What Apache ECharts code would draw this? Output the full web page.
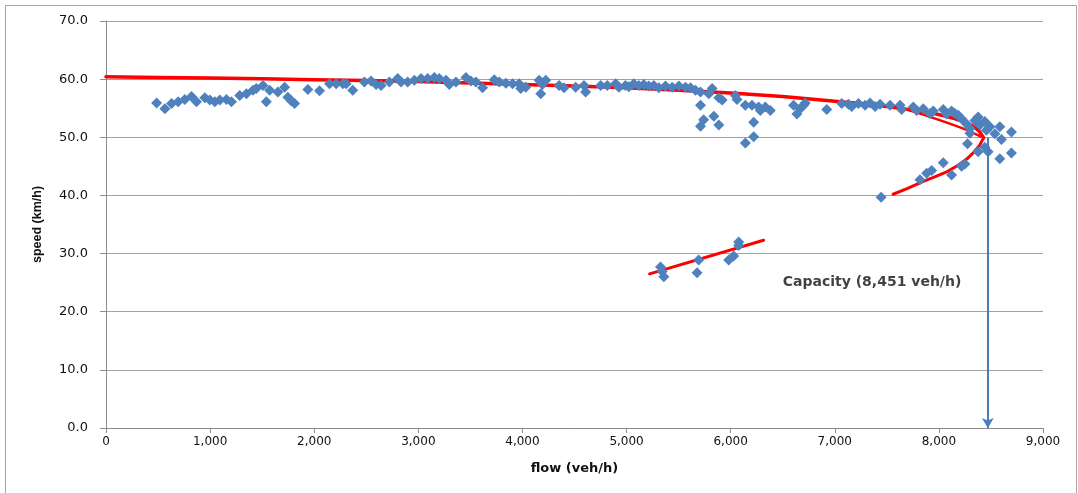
<!DOCTYPE html>
<html>
<head>
<meta charset="utf-8">
<script src="https://cdn.jsdelivr.net/npm/echarts@6/dist/echarts.min.js"></script>
<style>
html,body{margin:0;padding:0;background:#fff;}
#chart{width:1078px;height:493px;}
</style>
</head>
<body>
<div id="chart"></div>
<script>
// Observed flow (veh/h) vs speed (km/h)
const observations = [
[486,55.9],[566,54.9],[630,55.8],[693,56.1],[757,56.5],[821,57.0],[869,56.1],[949,56.8],[997,56.4],[1045,56.1],
[1093,56.4],[1157,56.5],[1205,56.1],[1284,57.2],[1349,57.5],[1412,58.1],[1444,58.4],[1508,58.9],[1540,56.1],[1572,58.1],
[1651,57.8],[1716,58.6],[1747,56.9],[1779,56.3],[1811,55.8],[1939,58.2],[2051,58.0],[2147,59.2],[2211,59.2],[2275,59.2],
[2307,59.2],[2370,58.1],[2482,59.5],[2546,59.7],[2594,59.1],[2642,58.9],[2722,59.5],[2802,60.1],[2834,59.5],[2898,59.5],
[2962,59.8],[3026,60.1],[3090,60.1],[3154,60.3],[3201,60.1],[3266,59.8],[3297,59.1],[3361,59.5],[3457,60.3],[3505,59.7],
[3553,59.5],[3617,58.5],[3729,59.9],[3777,59.5],[3841,59.3],[3905,59.2],[3968,59.2],[3984,58.4],[4032,58.6],[4160,59.8],
[4192,59.1],[4176,57.5],[4224,59.8],[4352,58.9],[4400,58.5],[4511,58.6],[4591,58.9],[4607,57.8],[4751,58.9],[4815,58.9],
[4895,59.2],[4927,58.6],[4990,58.9],[5022,58.7],[5070,59.2],[5118,58.9],[5166,59.1],[5214,58.8],[5262,58.9],[5310,58.5],
[5374,58.8],[5438,58.6],[5502,58.8],[5566,58.6],[5614,58.5],[5662,58.1],[5710,57.8],[5710,55.5],[5741,53.0],[5710,51.9],
[5790,57.5],[5822,58.4],[5838,53.6],[5886,52.1],[5886,56.8],[5918,56.4],[6045,57.2],[6061,56.5],[6141,55.5],[6141,49.0],
[6205,55.5],[6221,52.6],[6221,50.1],[6269,55.2],[6285,54.6],[6333,55.2],[6381,54.6],[6604,55.5],[6636,54.0],[6668,54.9],
[6700,55.5],[6716,55.9],[6923,54.8],[7067,55.8],[7131,55.7],[7163,55.3],[7227,55.8],[7291,55.5],[7339,55.9],[7387,55.3],
[7435,55.7],[7531,55.5],[7627,55.5],[7642,54.8],[7754,55.2],[7786,54.6],[7850,54.9],[7914,54.1],[7946,54.5],[8042,54.8],
[8074,54.0],[8122,54.5],[8154,54.1],[8186,53.8],[8218,53.2],[8266,52.3],[8298,51.5],[8298,50.7],[8346,52.9],[8377,53.5],
[8393,52.1],[8441,52.7],[8457,51.2],[8489,51.8],[8537,50.6],[8585,51.8],[8601,49.6],[8697,50.9],[8275,48.9],[8377,47.5],
[8441,48.3],[8473,47.5],[8585,46.3],[8697,47.3],[8042,45.6],[8122,43.5],[8218,45.0],[8250,45.4],[7930,44.3],[7882,43.8],
[7818,42.7],[7445,39.7],
[5326,27.7],[5358,26.0],[5342,26.9],[5693,28.9],[5677,26.7],[5981,28.9],[6029,29.6],[6077,31.4],[6077,32.0]
];

// Fitted uncongested speed-flow curve
const fitCurve = [
[0,60.4],[500,60.3],[1000,60.2],[1500,60.05],[2000,59.9],[2500,59.75],[3000,59.6],[3500,59.35],[4000,59.1],
[4500,58.8],[5000,58.5],[5500,58.1],[6000,57.6],[6500,57.0],[7000,56.2],[7250,55.8],[7500,55.3],[7700,54.8],
[7900,54.3],[8050,53.7],[8150,53.2],[8250,52.6],[8330,51.9],[8390,51.0],[8430,49.9]
];
// Secondary fitted branch near capacity
const nearCapacityFit = [[7650,55.0],[7850,53.9],[8050,52.7],[8250,51.4],[8420,50.0]];
// Congested branch fit
const congestedFit = [
[7560,40.2],[7700,41.2],[7850,42.4],[7960,43.2],[8080,44.1],[8185,45.2],[8270,46.3],[8340,47.5],[8390,48.6],[8420,49.6]
];
// Low-speed cluster fit
const lowSpeedFit = [[5221,26.5],[6316,32.3]];

// Capacity marker
const capacityFlow = 8470;
const capacityArrowTop = 50.0;
const capacityLabel = 'Capacity (8,451 veh/h)';
const capacityLabelPos = [6500, 25.1];

const xTicks = {min:0, max:9000, interval:1000};
const yTicks = {min:0, max:70, interval:10};

const chart = echarts.init(document.getElementById('chart'), null, {renderer:'canvas'});
const axisGray = '#8c8c8c';

const redLine = (data, width) => ({
  type:'line', data, smooth:false, showSymbol:false, symbol:'none',
  lineStyle:{color:'#ff0000', width, cap:'round', join:'round'}, z:2
});

const option = {
  animation:false,
  backgroundColor:'#ffffff',
  grid:{left:106, right:35, top:21, bottom:65, containLabel:false},
  xAxis:{
    type:'value', min:xTicks.min, max:xTicks.max, interval:xTicks.interval,
    name:'flow (veh/h)', nameLocation:'middle', nameGap:34,
    nameTextStyle:{fontFamily:'DejaVu Sans', fontWeight:'bold', fontSize:13, color:'#111'},
    axisLine:{show:true, onZero:false, lineStyle:{color:axisGray, width:1}},
    axisTick:{show:true, inside:false, length:5, lineStyle:{color:axisGray}},
    splitLine:{show:false},
    axisLabel:{fontFamily:'DejaVu Sans', fontSize:12, color:'#111', margin:8,
      formatter:v=>v.toLocaleString('en-US')}
  },
  yAxis:{
    type:'value', min:yTicks.min, max:yTicks.max, interval:yTicks.interval,
    name:'speed (km/h)', nameLocation:'middle', nameGap:62, nameRotate:90,
    nameTextStyle:{fontFamily:'Liberation Sans', fontWeight:'bold', fontSize:12.5, color:'#111'},
    axisLine:{show:true, lineStyle:{color:axisGray, width:1}},
    axisTick:{show:true, inside:false, length:6, lineStyle:{color:axisGray}},
    splitLine:{show:true, lineStyle:{color:'#a0a0a0', width:1}},
    axisLabel:{fontFamily:'DejaVu Sans', fontSize:13, color:'#111', margin:18,
      formatter:v=>v.toFixed(1)}
  },
  series:[
    redLine(fitCurve, 3.5),
    redLine(nearCapacityFit, 2.5),
    redLine(congestedFit, 3),
    redLine(lowSpeedFit, 3),
    {type:'scatter', data:observations, symbol:'diamond', symbolSize:11,
     itemStyle:{color:'#4f81bd', opacity:1}, z:3},
    {type:'line', data:[], z:4,
     markLine:{silent:true, symbol:['none','arrow'], symbolSize:[9,10],
       lineStyle:{color:'#4a7ebb', width:2, type:'solid'}, label:{show:false},
       data:[[{coord:[capacityFlow, capacityArrowTop]},{coord:[capacityFlow, 0]}]]}},
    {type:'scatter', data:[capacityLabelPos], symbolSize:0, z:5,
     label:{show:true, position:'right', distance:0, formatter:capacityLabel,
       fontFamily:'DejaVu Sans', fontWeight:'bold', fontSize:14, color:'#111'}}
  ],
  graphic:[
    {type:'rect', shape:{x:5.5, y:5.5, width:1071, height:500}, silent:true, z:-1,
     style:{fill:null, stroke:'#a6a6a6', lineWidth:1}}
  ]
};
chart.setOption(option);
</script>
</body>
</html>
